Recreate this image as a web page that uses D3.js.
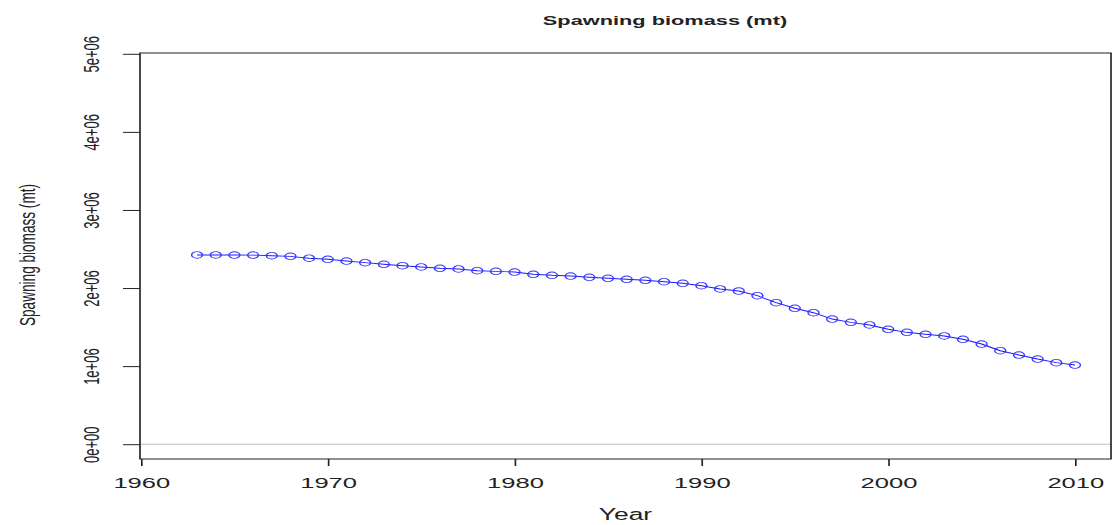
<!DOCTYPE html>
<html>
<head>
<meta charset="utf-8">
<script src="https://cdn.jsdelivr.net/npm/d3@7"></script>
<style>
    body { margin: 0; background: #fff; }
    svg { display: block; }
    text { font-family: "Liberation Sans", Arial, sans-serif; fill: #222; }
</style>
</head>
<body>
<svg id="chart"></svg>
<script>
// spawning biomass (mt) by year
const years = [1963, 1964, 1965, 1966, 1967, 1968, 1969, 1970, 1971, 1972,
    1973, 1974, 1975, 1976, 1977, 1978, 1979, 1980, 1981, 1982,
    1983, 1984, 1985, 1986, 1987, 1988, 1989, 1990, 1991, 1992,
    1993, 1994, 1995, 1996, 1997, 1998, 1999, 2000, 2001, 2002,
    2003, 2004, 2005, 2006, 2007, 2008, 2009, 2010]

const biomass = [2424000, 2424000, 2423000, 2422000, 2414000, 2406000, 2382000, 2368000, 2346000, 2325000,
    2304000, 2286000, 2270000, 2253000, 2244000, 2222000, 2214000, 2205000, 2176000, 2163000,
    2154000, 2138000, 2125000, 2112000, 2099000, 2081000, 2061000, 2030000, 1988000, 1962000,
    1902000, 1812000, 1741000, 1684000, 1603000, 1561000, 1527000, 1472000, 1433000, 1408000,
    1386000, 1344000, 1283000, 1197000, 1142000, 1091000, 1044000, 1014000]

const xTicks = [1960, 1970, 1980, 1990, 2000, 2010]
const yTicks = [0, 1e6, 2e6, 3e6, 4e6, 5e6]
const yTickLabels = ["0e+00", "1e+06", "2e+06", "3e+06", "4e+06", "5e+06"]

const chartTitle = "Spawning biomass (mt)"
const xTitle = "Year"
const yTitle = "Spawning biomass (mt)"

class BiomassChart{
    constructor(){
        // the original picture is stretched sideways, so draw in a narrower
        // box and let the viewBox widen everything
        this.K = 1.65
        this.width = 1116
        this.height = 525

        this.svg = d3.select('#chart')
            .attr('width', this.width)
            .attr('height', this.height)
            .attr('viewBox', `0 0 ${this.width / this.K} ${this.height}`)
            .attr('preserveAspectRatio', 'none')

        this.box = {left: 140 / this.K, right: 1111 / this.K, top: 53, bottom: 459}

        this.x = d3.scaleLinear()
            .domain([1960, 2010])
            .range([141 / this.K, 1075 / this.K])

        this.y = d3.scaleLinear()
            .domain([0, 5e6])
            .range([444.2, 53.8])

        this.drawFrame()
        this.drawAxes()
        this.drawSeries()
    }

    drawFrame(){
        let b = this.box

        this.svg.append('line')
            .attr('x1', b.left).attr('x2', b.right)
            .attr('y1', this.y(0)).attr('y2', this.y(0))
            .attr('stroke', '#bdbdbd')
            .attr('stroke-width', 1)

        this.svg.append('rect')
            .attr('x', b.left)
            .attr('y', b.top)
            .attr('width', b.right - b.left)
            .attr('height', b.bottom - b.top)
            .attr('fill', 'none')
            .attr('stroke', '#222')
            .attr('stroke-width', 1)

        // title sits a little right of the plot centre in the original
        this.svg.append('text')
            .attr('x', 665 / this.K)
            .attr('y', 25)
            .attr('text-anchor', 'middle')
            .attr('font-weight', 'bold')
            .attr('font-size', 13.2)
            .text(chartTitle)

        this.svg.append('text')
            .attr('x', (b.left + b.right) / 2)
            .attr('y', 520)
            .attr('text-anchor', 'middle')
            .attr('font-size', 16)
            .text(xTitle)

        this.svg.append('text')
            .attr('transform', `translate(${35 / this.K},255) rotate(-90)`)
            .attr('text-anchor', 'middle')
            .attr('font-size', 13.6)
            .text(yTitle)
    }

    drawAxes(){
        let xAxis = this.svg.append('g')
            .attr('transform', `translate(0,${this.box.bottom})`)
            .call(d3.axisBottom(this.x)
                .tickValues(xTicks)
                .tickSize(7)
                .tickPadding(11)
                .tickFormat(d3.format('d')))

        xAxis.select('.domain').remove()
        xAxis.selectAll('line').attr('stroke', '#222')
        xAxis.selectAll('text')
            .attr('font-size', 15.5)
            .attr('font-family', null)
            .attr('fill', '#222')

        let yAxis = this.svg.append('g')
            .attr('transform', `translate(${this.box.left},0)`)
            .call(d3.axisLeft(this.y)
                .tickValues(yTicks)
                .tickSize(17 / this.K)
                .tickFormat((d, i) => yTickLabels[i]))

        yAxis.select('.domain').remove()
        yAxis.selectAll('line').attr('stroke', '#222')
        yAxis.selectAll('text')
            .attr('x', null)
            .attr('dy', null)
            .attr('text-anchor', 'middle')
            .attr('transform', `translate(${(99 - 140) / this.K},0) rotate(-90)`)
            .attr('font-size', 13)
            .attr('font-family', null)
            .attr('fill', '#222')
    }

    drawSeries(){
        let points = years.map((yr, i) => ({year: yr, value: biomass[i]}))

        let line = d3.line()
            .x(d => this.x(d.year))
            .y(d => this.y(d.value))

        this.svg.append('path')
            .datum(points)
            .attr('d', line)
            .attr('fill', 'none')
            .attr('stroke', '#1a1aff')
            .attr('stroke-width', 0.9)

        this.svg.append('g')
            .selectAll('circle')
            .data(points)
            .join('circle')
            .attr('cx', d => this.x(d.year))
            .attr('cy', d => this.y(d.value))
            .attr('r', 3.3)
            .attr('fill', 'none')
            .attr('stroke', '#3535ff')
            .attr('stroke-width', 0.85)
    }
}

new BiomassChart()
</script>
</body>
</html>
